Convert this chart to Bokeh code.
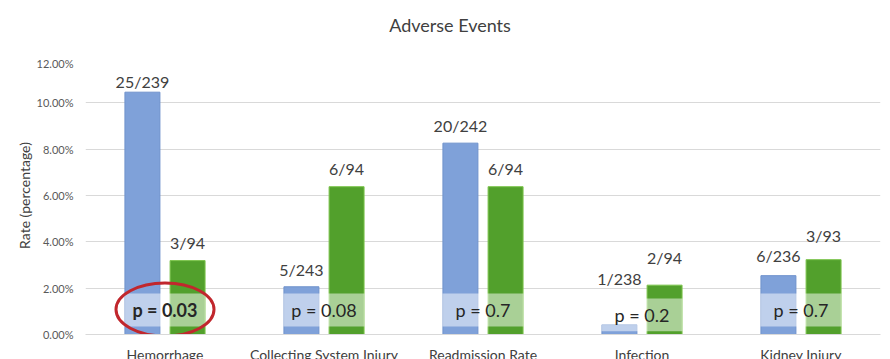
from bokeh.plotting import figure
from bokeh.layouts import column
from bokeh.models import ColumnDataSource, FactorRange, Range1d, PrintfTickFormatter, FixedTicker, Div
from bokeh.transform import dodge
from bokeh.core.properties import value
from bokeh.embed import file_html
from bokeh.resources import INLINE

# ---- data ----
categories = ["Hemorrhage", "Collecting System Injury", "Readmission Rate", "Infection", "Kidney Injury"]
group_a_rate = [10.46, 2.06, 8.26, 0.42, 2.54]      # percent
group_b_rate = [3.19, 6.38, 6.38, 2.13, 3.23]        # percent
group_a_counts = ["25/239", "5/243", "20/242", "1/238", "6/236"]
group_b_counts = ["3/94", "6/94", "6/94", "2/94", "3/93"]
p_values = ["p = 0.03", "p = 0.08", "p = 0.7", "p = 0.2", "p = 0.7"]
y_ticks = [0, 2, 4, 6, 8, 10, 12]
title_text = "Adverse Events"

# ---- styling (pixel offsets of the count labels above the bar tops) ----
gap_a = [-11, -17, -18, -46, -20]
gap_b = [-18, -18, -18, -28, -24]
p_styles = ["bold", "normal", "normal", "normal", "normal"]
box_bottom = [0.35, 0.35, 0.35, 0.14, 0.35]
box_top = [1.77, 1.77, 1.77, 1.55, 1.77]

FONT = "Lato"
BLUE = "#7fa1d9"
GREEN = "#52a02c"

src = ColumnDataSource(dict(
    cat=categories, a=group_a_rate, b=group_b_rate,
    la=group_a_counts, lb=group_b_counts, ga=gap_a, gb=gap_b,
    pv=p_values, ps=p_styles,
    bm=[(lo + hi) / 2 for lo, hi in zip(box_bottom, box_top)],
    bh=[hi - lo for lo, hi in zip(box_bottom, box_top)],
))

# chart title, centred over the whole chart
title_div = Div(text=title_text, width=890, height=46,
                styles={"text-align": "center", "font-family": "Lato", "font-size": "18px",
                        "color": "#404040", "line-height": "22px", "padding-top": "9px",
                        "width": "890px"})

p = figure(width=890, height=313, x_range=FactorRange(factors=categories, range_padding=0),
           y_range=Range1d(0, 12), output_backend="svg", toolbar_location=None,
           min_border_left=85, min_border_right=10, min_border_top=0, min_border_bottom=35)
p.title = None
p.outline_line_color = None
p.background_fill_color = "white"
p.border_fill_color = "white"

p.xgrid.grid_line_color = None
p.ygrid.grid_line_color = "#d9d9d9"
p.ygrid.ticker = FixedTicker(ticks=y_ticks)

p.yaxis.ticker = FixedTicker(ticks=y_ticks)
p.yaxis.formatter = PrintfTickFormatter(format="%.2f%%")
p.yaxis.axis_line_color = None
p.yaxis.major_tick_line_color = None
p.yaxis.minor_tick_line_color = None
p.yaxis.major_label_standoff = 6
p.yaxis.major_label_text_font = FONT
p.yaxis.major_label_text_font_size = "11px"
p.yaxis.major_label_text_color = "#595959"
p.yaxis.axis_label = "Rate (percentage)"
p.yaxis.axis_label_text_font = FONT
p.yaxis.axis_label_text_font_size = "14px"
p.yaxis.axis_label_text_font_style = "normal"
p.yaxis.axis_label_text_color = "#404040"
p.yaxis.axis_label_standoff = 1

p.xaxis.axis_line_color = "#d9d9d9"
p.xaxis.major_tick_line_color = None
p.xaxis.minor_tick_line_color = None
p.xaxis.major_label_standoff = 5
p.xaxis.major_label_text_font = FONT
p.xaxis.major_label_text_font_size = "14px"
p.xaxis.major_label_text_color = "#404040"

off = 0.142
bw = 0.22
p.vbar(x=dodge("cat", -off, range=p.x_range), top="a", width=bw, source=src,
       fill_color=BLUE, line_color="#6f92cc", line_width=1)
p.vbar(x=dodge("cat", off, range=p.x_range), top="b", width=bw, source=src,
       fill_color=GREEN, line_color="#7cc44c", line_width=1)

# translucent label boxes
p.rect(x="cat", y="bm", width=0.51, height="bh", source=src,
       fill_color="white", fill_alpha=0.5, line_color=None)

# count labels
p.text(x=dodge("cat", -off, range=p.x_range), y="a", text="la", y_offset="ga", source=src,
       text_align="center", text_baseline="alphabetic", text_font=value(FONT),
       text_font_size="16px", text_color="#404040")
p.text(x=dodge("cat", off, range=p.x_range), y="b", text="lb", y_offset="gb", source=src,
       text_align="center", text_baseline="alphabetic", text_font=value(FONT),
       text_font_size="16px", text_color="#404040")

# p-values
p.text(x="cat", y="bm", text="pv", source=src, text_align="center", text_baseline="middle",
       text_font=value(FONT), text_font_size="18px", text_font_style="ps", text_color="#262626")

# red highlight ellipse around the significant p-value
p.ellipse(x=[categories[0]], y=[1.08], width=98, height=53, width_units="screen",
          height_units="screen", fill_color=None, line_color="#c1272d", line_width=3)

layout = column(title_div, p, spacing=0)
open("out.html", "w").write(file_html(layout, INLINE))
